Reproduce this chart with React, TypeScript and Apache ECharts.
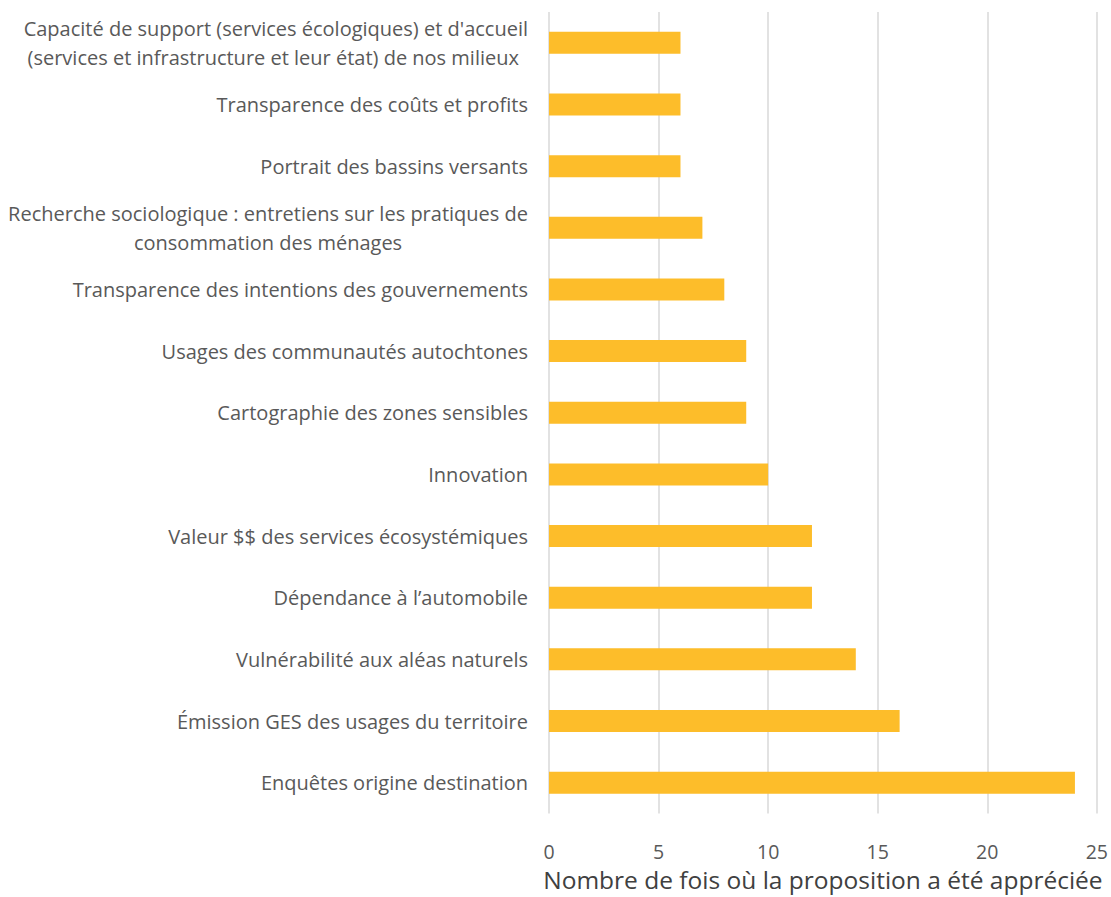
import React, { useEffect, useRef } from "react";
import * as echarts from "echarts";

const categories = [
  "Enquêtes origine destination",
  "Émission GES des usages du territoire",
  "Vulnérabilité aux aléas naturels",
  "Dépendance à l’automobile",
  "Valeur $$ des services écosystémiques",
  "Innovation",
  "Cartographie des zones sensibles",
  "Usages des communautés autochtones",
  "Transparence des intentions des gouvernements",
  "Recherche sociologique : entretiens sur les pratiques de\nconsommation des ménages",
  "Portrait des bassins versants",
  "Transparence des coûts et profits",
  "Capacité de support (services écologiques) et d'accueil\n(services et infrastructure et leur état) de nos milieux ",
];
const values = [24, 16, 14, 12, 12, 10, 9, 9, 8, 7, 6, 6, 6];
const xTicks = [0, 5, 10, 15, 20, 25];
const axisTitle = "Nombre de fois où la proposition a été appréciée";

const FONT = "Open Sans";
const LABEL_COLOR = "#595959";
const LS = 20;

export default function App() {
  const ref = useRef<HTMLDivElement>(null);
  useEffect(() => {
    document.documentElement.style.overflow = "hidden";
    document.body.style.margin = "0";
    document.body.style.overflow = "hidden";
    const chart = echarts.init(ref.current!, null, { renderer: "svg" });
    chart.setOption({
      animation: false,
      textStyle: { fontFamily: FONT },
      grid: { left: 549, right: 13, top: 12, bottom: 74, containLabel: false },
      xAxis: {
        type: "value",
        min: xTicks[0],
        max: xTicks[xTicks.length - 1],
        interval: 5,
        axisLine: { show: false },
        axisTick: { show: false },
        splitLine: { show: true, lineStyle: { color: "#d9d9d9", width: 1.5 } },
        axisLabel: { color: LABEL_COLOR, fontSize: 19.5, lineHeight: 20, margin: 28, fontFamily: FONT },
        name: axisTitle,
        nameLocation: "middle",
        nameGap: 54,
        nameTextStyle: { color: "#404040", fontSize: 24.5, lineHeight: 24, fontFamily: FONT, verticalAlign: "top" },
      },
      yAxis: {
        type: "category",
        data: categories,
        axisLine: { show: false },
        axisTick: { show: false },
        axisLabel: {
          color: LABEL_COLOR,
          fontSize: LS,
          margin: 21,
          lineHeight: 29,
          fontFamily: FONT,
          formatter: (v: string) => {
            const parts = v.split("\n");
            if (parts.length === 1) return v;
            return parts.map((p) => "{m|" + p + "}").join("\n");
          },
          rich: {
            m: { color: LABEL_COLOR, fontSize: LS, lineHeight: 29, fontFamily: FONT, align: "center" },
          },
        },
      },
      series: [
        {
          type: "bar",
          data: values,
          barWidth: 22,
          itemStyle: { color: "#FDBD2A" },
        },
      ],
    });
    return () => chart.dispose();
  }, []);
  return (
    <div
      ref={ref}
      style={{ position: "absolute", left: 0, top: 0, width: 1111, height: 897, overflow: "hidden" }}
    />
  );
}
